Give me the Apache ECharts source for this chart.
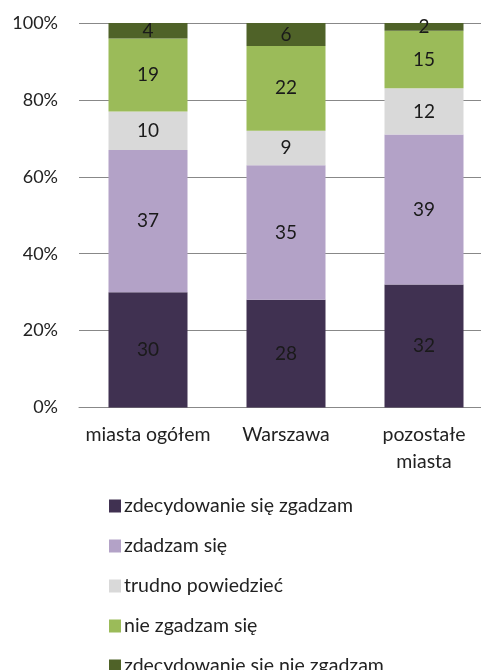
<!DOCTYPE html>
<html>
<head>
<meta charset="utf-8">
<script src="https://cdn.jsdelivr.net/npm/echarts@6/dist/echarts.min.js"></script>
<style>
  html, body { margin: 0; padding: 0; background: #fff; overflow: hidden; }
  #chart { width: 495px; height: 800px; }
</style>
</head>
<body>
<div id="chart"></div>
<script>
var categories = ['miasta ogółem', 'Warszawa', 'pozostałe\nmiasta'];
var seriesNames = ['zdecydowanie się zgadzam', 'zdadzam się', 'trudno powiedzieć', 'nie zgadzam się', 'zdecydowanie się nie zgadzam'];
var stronglyAgree = [30, 28, 32];
var agree = [37, 35, 39];
var hardToSay = [10, 9, 12];
var disagree = [19, 22, 15];
var stronglyDisagree = [4, 6, 2];
var colors = ['#403151', '#b3a2c7', '#d9d9d9', '#9bbb59', '#4f6228'];

var font = 'Lato';
var values = [stronglyAgree, agree, hardToSay, disagree, stronglyDisagree];

var series = values.map(function (v, i) {
    return {
        name: seriesNames[i],
        type: 'bar',
        stack: 'total',
        barWidth: 79,
        data: v,
        itemStyle: { color: colors[i] },
        label: {
            show: true,
            position: 'inside',
            color: '#1a1a1a',
            fontFamily: font,
            fontSize: 19
        }
    };
});

var myChart = echarts.init(document.getElementById('chart'));
myChart.setOption({
    animation: false,
    color: colors,
    grid: { left: 79, top: 23, width: 414, height: 384.5, containLabel: false },
    legend: {
        orient: 'vertical',
        left: 104,
        top: 491,
        height: 300,
        itemWidth: 12,
        itemHeight: 13,
        itemGap: 20,
        icon: 'rect',
        textStyle: { fontFamily: font, fontSize: 19.5, color: '#222', padding: [0, 0, 0, -2] },
        data: seriesNames
    },
    xAxis: {
        type: 'category',
        data: categories,
        axisLine: { show: true, lineStyle: { color: '#888', width: 1 } },
        axisTick: { show: false },
        axisLabel: { interval: 0, fontFamily: font, fontSize: 19.5, color: '#222', margin: 14, lineHeight: 27 }
    },
    yAxis: {
        type: 'value',
        min: 0,
        max: 100,
        interval: 20,
        axisLine: { show: false },
        axisTick: { show: false },
        splitLine: { lineStyle: { color: '#888', width: 1 } },
        axisLabel: { fontFamily: font, fontSize: 18, color: '#222', margin: 21, formatter: '{value}%' }
    },
    series: series
});
</script>
</body>
</html>
